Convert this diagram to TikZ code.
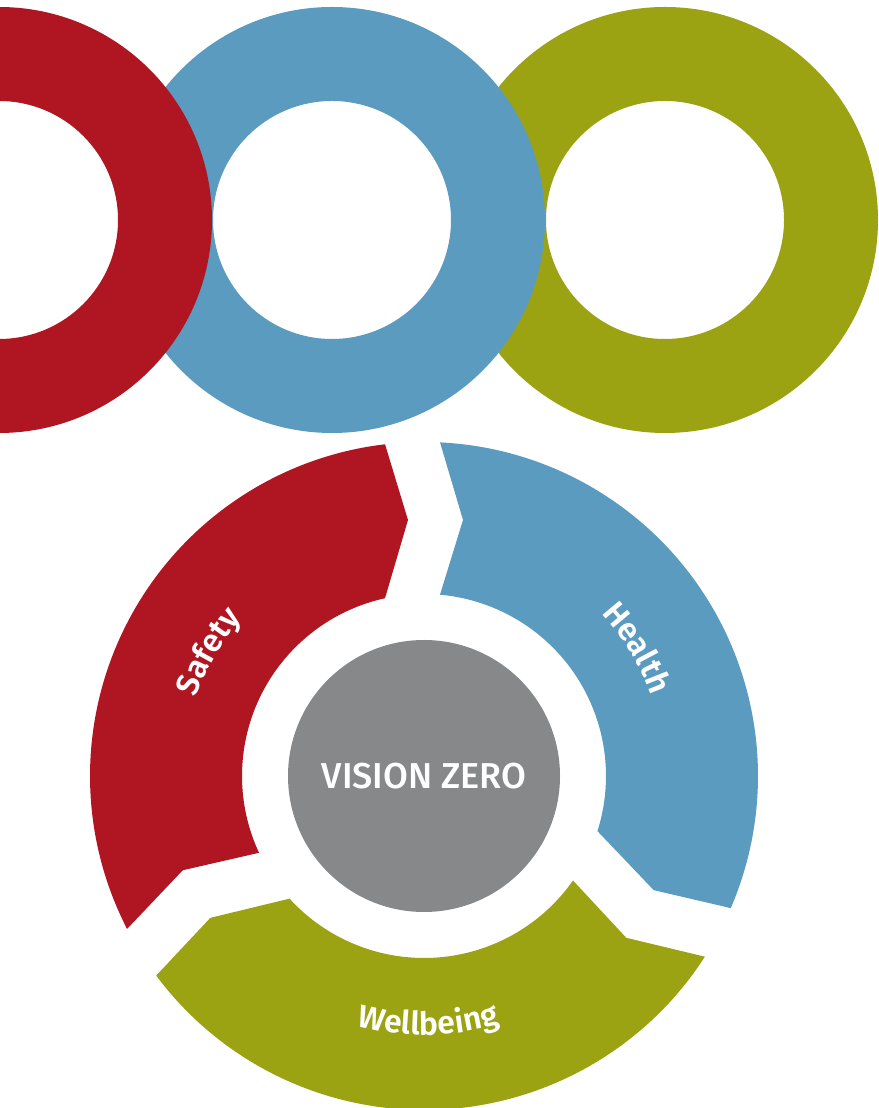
\documentclass[tikz,border=0pt]{standalone}
\usepackage{fontspec}
\setmainfont{Fira Sans}
\newfontfamily\fsmed{Fira Sans Medium}
\newfontfamily\fslabel{Fira Sans SemiBold}
\usetikzlibrary{decorations.text}
\definecolor{vzred}{HTML}{B01522}
\definecolor{vzblue}{HTML}{5A9BBF}
\definecolor{vzolive}{HTML}{9CA312}
\definecolor{vzgrey}{HTML}{87888A}
\begin{document}
\begin{tikzpicture}[x=1pt,y=1pt,
  ringfill/.style={fill=#1, even odd rule},
  segfill/.style={fill=#1},
  arclabel/.style={decorate, decoration={text along path, text align=center,
     text={|\fslabel\fontsize{32}{32}\selectfont\color{white}|#1}}}
  ]
\useasboundingbox (0,0) rectangle (878,1108);
\fill[white] (0,0) rectangle (878,1108);
% top rings
\begin{scope}
\clip (0,0) rectangle (878,1108);
\path[ringfill=vzolive] (665,888) circle[radius=213] (665,888) circle[radius=119];
\path[ringfill=vzblue] (332,888) circle[radius=213] (332,888) circle[radius=119];
\path[ringfill=vzred] (-1,888) circle[radius=213] (-1,888) circle[radius=119];
\end{scope}
% cycle diagram
\begin{scope}[shift={(424,332)}]
\foreach \rot/\col in {0/vzred,-120/vzblue,-240/vzolive}{
  \path[segfill=\col, rotate=\rot]
    (207.25:334) arc[start angle=207.25, end angle=96.7, radius=334]
    -- (93.58:256.5) -- (102.37:182)
    arc[start angle=102.37, end angle=204.96, radius=182]
    -- (201.34:259) -- cycle;
}
\node[circle, fill=vzgrey, minimum size=272, inner sep=0, text=white,
      font=\fsmed\fontsize{36}{36}\selectfont] (vz) at (0,0) {VISION ZERO};
\path[arclabel=Safety] (175:241) arc[start angle=175, end angle=125, radius=241];
\path[arclabel=Health] (56:241) arc[start angle=56, end angle=6, radius=241];
\path[arclabel=Wellbeing] (-124:259) arc[start angle=-124, end angle=-54, radius=259];
\end{scope}
\end{tikzpicture}
\end{document}
